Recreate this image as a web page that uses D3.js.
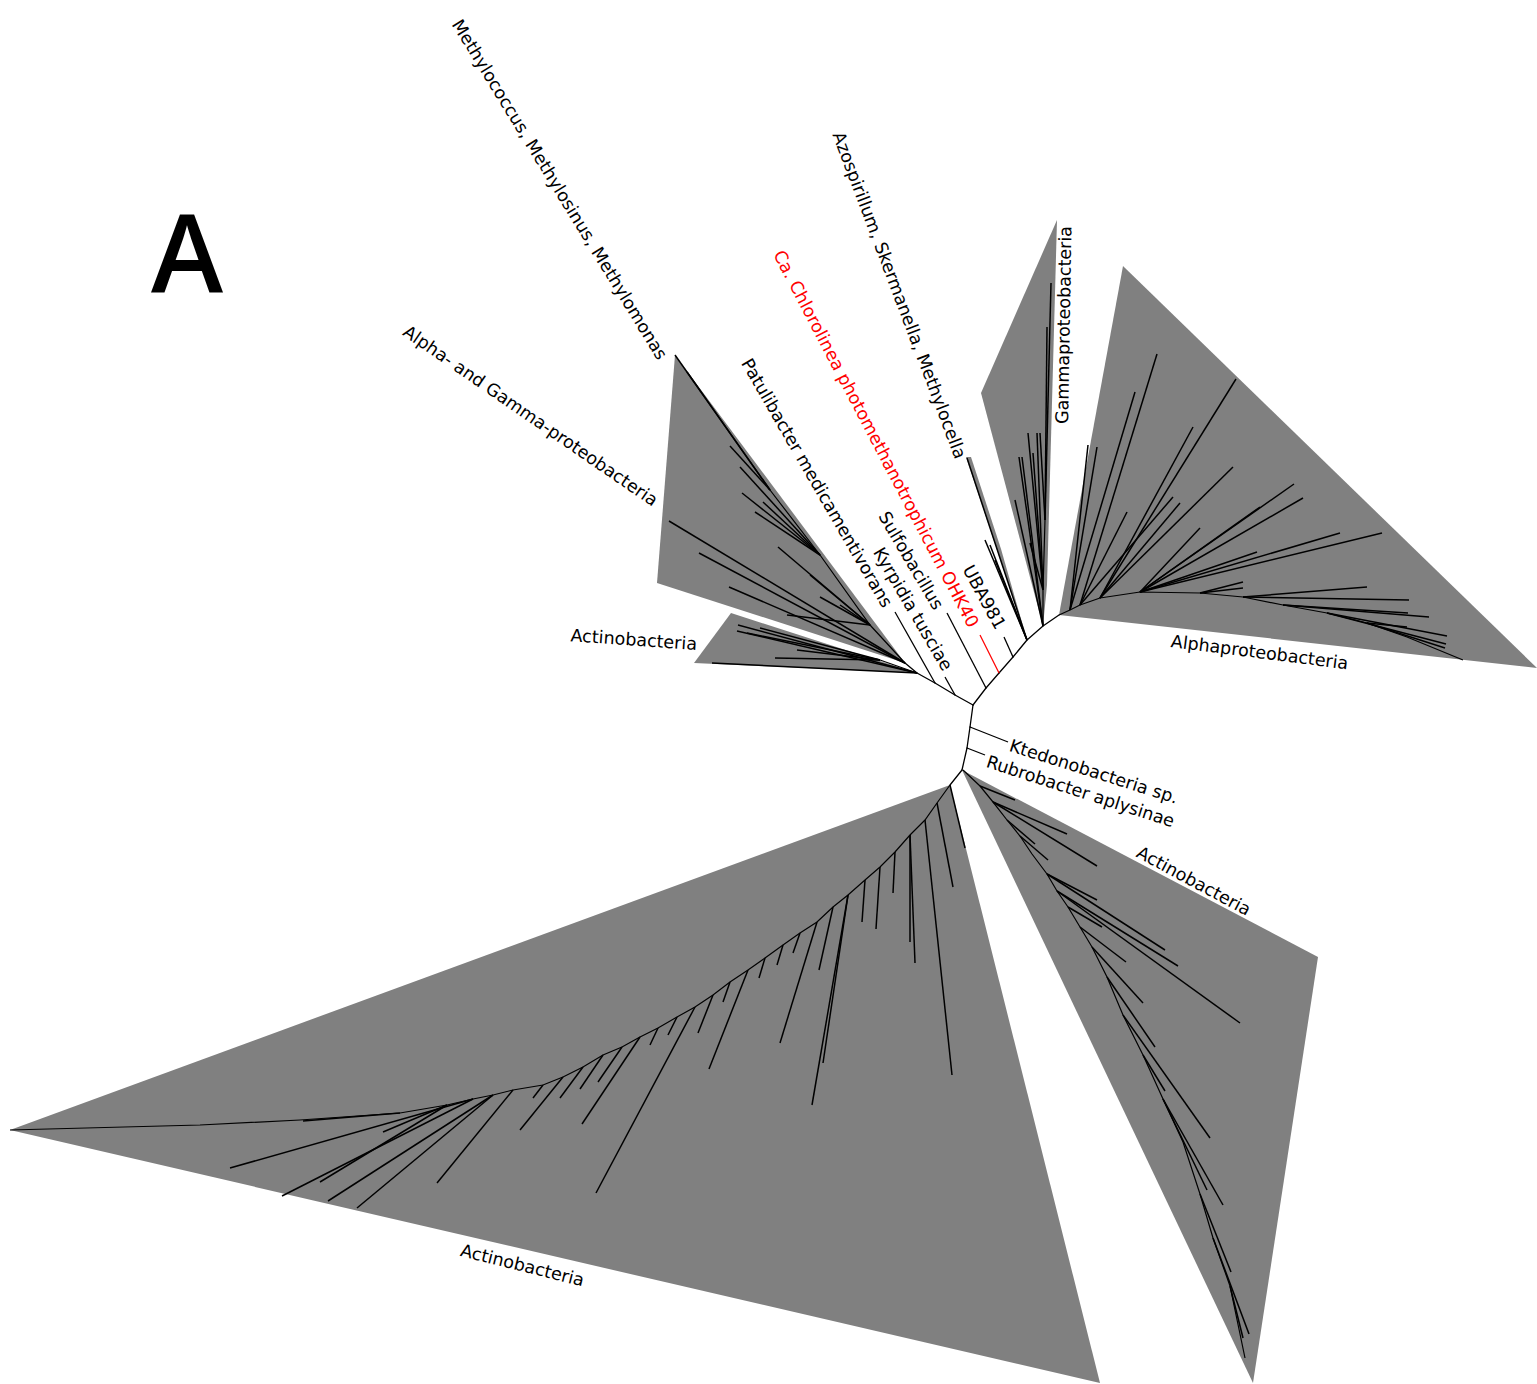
<!DOCTYPE html>
<html>
<head>
<meta charset="utf-8">
<script src="https://cdn.jsdelivr.net/npm/d3@7"></script>
<style>
  body { margin: 0; background: #fff; }
  svg { display: block; background: #fff; }
  .label { font-family: "DejaVu Sans", Verdana, sans-serif; font-size: 17.5px; }
  .panel { font-family: "Open Sans", "DejaVu Sans", sans-serif; font-size: 109px; font-weight: 600; }
</style>
</head>
<body>
<div id="tree"></div>
<script>
var svgWidth = 1537;
var svgHeight = 1384;

// inner backbone of the unrooted tree: [node, parent, x, y]
// x / y in branch-length units, the central node sits at 0,0
var innerNodes = [
  ["R", null, 0, 0],
  ["A1", "R", 0.13, -0.17],
  ["A2", "A1", 0.26, -0.32],
  ["A3", "A2", 0.40, -0.48],
  ["A4", "A3", 0.54, -0.65],
  ["A5", "A4", 0.70, -0.79],
  ["A6", "A5", 0.86, -0.90],
  ["B1", "R", -0.18, -0.10],
  ["B2", "B1", -0.38, -0.22],
  ["B3", "B2", -0.56, -0.32],
  ["B4", "B3", -0.68, -0.42],
  ["C1", "R", -0.03, 0.22],
  ["C2", "C1", -0.06, 0.43],
  ["C3", "C2", -0.11, 0.65],
  ["C4", "C3", -0.23, 0.80]
];

// single named tips
var tipNames = ["Sulfobacillus", "Ca. Chlorolinea photomethanotrophicum OHK40", "UBA981",
  "Kyrpidia tusciae", "Patulibacter medicamentivorans", "Ktedonobacteria sp.", "Rubrobacter aplysinae"];
var tipParents = ["A1", "A2", "A3", "B1", "B2", "C1", "C2"];
var tipCoords = [[-0.26, -0.92], [0.07, -0.70], [0.31, -0.68], [-0.28, -0.28],
  [-0.78, -0.93], [0.35, 0.37], [0.12, 0.50]];
var highlightTip = "Ca. Chlorolinea photomethanotrophicum OHK40";

// collapsed clades (grey wedges)
var cladeIds = ["alphaGamma", "actinoSmall", "azospirillum", "gamma", "alpha", "actinoBig", "actinoRight"];
var cladeRoots = ["B4", "B3", "A4", "A5", "A6", "C4", "C3"];
var cladeHulls = [
  [[-2.98, -3.50], [-3.16, -1.22]],
  [[-2.42, -0.92], [-2.79, -0.42]],
  [[-0.07, -2.48], [-0.02, -2.48], [0.28, -1.56]],
  [[0.08, -3.12], [0.84, -4.85], [0.74, -1.20]],
  [[1.50, -4.39], [5.64, -0.37]],
  [[-9.63, 4.25], [1.27, 6.78]],
  [[3.45, 2.52], [2.80, 6.78]]
];

// internal spine of each clade, first point is the clade root
var cladeBackbones = [
  [[-0.68, -0.42], [-1.03, -0.80], [-1.53, -1.50], [-2.03, -2.15]],
  [[-0.56, -0.32], [-0.93, -0.45]],
  [[0.54, -0.65]],
  [[0.70, -0.79], [0.70, -1.15], [0.72, -1.85]],
  [[0.86, -0.90], [0.97, -0.95], [1.07, -1.00], [1.27, -1.07], [1.67, -1.13], [2.27, -1.12],
   [2.70, -1.08], [3.10, -1.00], [3.54, -0.92], [3.94, -0.82], [4.34, -0.68], [4.90, -0.45]],
  [[-0.23, 0.80], [-0.36, 0.98], [-0.48, 1.15], [-0.63, 1.30], [-0.78, 1.47], [-0.93, 1.62],
   [-1.08, 1.75], [-1.25, 1.90], [-1.40, 2.02], [-1.56, 2.17], [-1.73, 2.28], [-1.90, 2.40],
   [-2.08, 2.53], [-2.25, 2.65], [-2.43, 2.77], [-2.60, 2.90], [-2.78, 3.02], [-2.96, 3.12],
   [-3.15, 3.23], [-3.33, 3.32], [-3.51, 3.42], [-3.70, 3.50], [-3.90, 3.62], [-4.10, 3.72],
   [-4.30, 3.80], [-4.60, 3.85], [-4.80, 3.90], [-5.00, 3.94], [-5.26, 4.00], [-5.73, 4.08],
   [-6.73, 4.15], [-7.73, 4.20], [-9.63, 4.25]],
  [[-0.10, 0.65], [0.07, 0.81], [0.20, 0.97], [0.34, 1.15], [0.47, 1.31], [0.59, 1.49],
   [0.74, 1.69], [0.84, 1.86], [0.95, 2.02], [1.07, 2.22], [1.19, 2.42], [1.34, 2.72],
   [1.50, 3.10], [1.70, 3.50], [1.90, 3.94], [2.10, 4.37], [2.27, 4.89], [2.40, 5.33],
   [2.57, 5.81], [2.72, 6.53]]
];

// leaves inside each clade: [spine index, x, y]
var cladeLeaves = [
  [[3, -2.98, -3.50], [3, -2.86, -3.33], [3, -2.43, -2.59], [2, -2.33, -2.38], [2, -2.31, -2.12],
   [2, -2.18, -1.93], [2, -2.10, -2.03], [0, -3.04, -1.84], [0, -2.74, -1.52], [0, -2.44, -1.18],
   [1, -1.95, -1.58], [1, -1.53, -1.08], [1, -1.33, -1.00], [1, -1.86, -0.90], [1, -1.63, -1.30]],
  [[0, -2.35, -0.80], [0, -2.36, -0.74], [0, -2.61, -0.42], [1, -2.13, -0.77], [1, -1.98, -0.47],
   [1, -1.76, -0.55], [1, -2.26, -0.72]],
  [[0, -0.06, -2.47], [0, 0.12, -1.65], [0, 0.17, -1.60], [0, 0.22, -1.45]],
  [[0, 0.42, -2.05], [0, 0.46, -2.48], [0, 0.49, -2.48], [1, 0.55, -2.72], [1, 0.64, -2.72],
   [1, 0.60, -2.52], [1, 0.57, -1.62], [2, 0.67, -2.72], [2, 0.74, -3.78], [2, 0.78, -4.22]],
  [[1, 1.24, -2.58], [1, 1.15, -2.60], [1, 1.62, -3.13], [2, 1.84, -3.51], [2, 1.54, -1.93],
   [2, 2.00, -2.08], [3, 2.63, -3.26], [3, 2.20, -2.78], [3, 2.60, -2.38], [3, 2.07, -2.02],
   [4, 2.27, -1.77], [4, 2.87, -1.98], [4, 3.30, -2.07], [4, 3.21, -2.21], [4, 4.09, -1.72],
   [4, 3.67, -1.72], [4, 2.84, -1.53], [5, 2.70, -1.23], [5, 2.70, -1.17], [6, 3.94, -1.18],
   [6, 4.36, -1.05], [7, 4.56, -0.88], [7, 4.35, -0.92], [8, 4.74, -0.69], [8, 4.73, -0.61],
   [9, 4.72, -0.57], [9, 4.34, -0.78]],
  [[0, -0.08, 1.43], [1, -0.20, 1.82], [2, -0.21, 3.70], [3, -0.58, 2.58], [3, -0.63, 2.37],
   [4, -0.80, 1.88], [5, -0.97, 2.24], [6, -1.11, 2.17], [7, -1.61, 4.00], [7, -1.50, 3.58],
   [8, -1.54, 2.65], [9, -1.93, 3.38], [10, -1.80, 2.48], [11, -1.96, 2.60], [12, -2.14, 2.73],
   [13, -2.64, 3.64], [14, -2.50, 2.97], [15, -2.75, 3.28], [16, -3.77, 4.88], [17, -3.05, 3.30],
   [18, -3.23, 3.40], [19, -3.91, 4.19], [20, -3.75, 3.77], [21, -3.93, 3.84], [22, -4.13, 3.93],
   [23, -4.53, 4.25], [24, -4.40, 3.93], [25, -5.36, 4.78], [26, -6.16, 5.03], [26, -6.45, 4.96],
   [27, -6.91, 4.91], [27, -7.43, 4.63], [28, -6.53, 4.77], [28, -5.90, 4.27], [29, -6.70, 4.16]],
  [[1, 0.42, 0.95], [2, 0.94, 1.29], [2, 1.24, 1.61], [3, 0.62, 1.39], [4, 0.75, 1.55],
   [6, 1.24, 1.95], [6, 1.92, 2.45], [7, 2.05, 2.61], [7, 2.67, 3.18], [8, 1.29, 2.22],
   [9, 1.53, 2.57], [10, 1.70, 2.98], [11, 1.82, 3.42], [12, 2.37, 4.33], [13, 1.92, 3.86],
   [14, 2.34, 4.85], [14, 2.50, 5.00], [16, 2.58, 5.67], [17, 2.76, 6.29], [18, 2.70, 6.33]]
];

// text shown next to the tree
var labelTexts = ["Methylococcus, Methylosinus, Methylomonas", "Alpha- and Gamma-proteobacteria",
  "Actinobacteria", "Patulibacter medicamentivorans", "Kyrpidia tusciae", "Sulfobacillus",
  "Ca. Chlorolinea photomethanotrophicum OHK40", "UBA981", "Azospirillum, Skermanella, Methylocella",
  "Gammaproteobacteria", "Alphaproteobacteria", "Ktedonobacteria sp.", "Rubrobacter aplysinae",
  "Actinobacteria", "Actinobacteria"];
var panelLetter = "A";

// where each label goes (tree units), its angle and anchor
var labelLayout = [
  {x: -3.10, y: -3.47, angle: 58.5, anchor: "end"},
  {x: -3.17, y: -2.03, angle: 34.5, anchor: "end"},
  {x: -2.76, y: -0.61, angle: 4, anchor: "end"},
  {x: -0.85, y: -0.99, angle: 60, anchor: "end"},
  {x: -0.25, y: -0.36, angle: 59.7, anchor: "end"},
  {x: -0.34, y: -0.97, angle: 59.5, anchor: "end"},
  {x: 0.01, y: -0.79, angle: 62.4, anchor: "end"},
  {x: 0.28, y: -0.77, angle: 61.5, anchor: "end"},
  {x: -0.12, y: -2.47, angle: 69.3, anchor: "end"},
  {x: 0.89, y: -2.81, angle: -89, anchor: "start"},
  {x: 1.98, y: -0.64, angle: 7.2, anchor: "start"},
  {x: 0.37, y: 0.40, angle: 17.6, anchor: "start"},
  {x: 0.14, y: 0.56, angle: 18, anchor: "start"},
  {x: 1.65, y: 1.46, angle: 28.2, anchor: "start"},
  {x: -5.12, y: 5.45, angle: 14, anchor: "start"}
];
var panelPos = {x: -8.22, y: -4.12};

var svg = d3.select("#tree")
  .append("svg")
  .attr("width", svgWidth)
  .attr("height", svgHeight);

// 1 branch-length unit = 100 px, centre node at (973, 705)
var xScale = d3.scaleLinear().domain([-10, 6]).range([-27, 1573]);
var yScale = d3.scaleLinear().domain([-8, 7]).range([-95, 1405]);

var nodeById = {};
innerNodes.forEach(d => { nodeById[d[0]] = {x: d[2], y: d[3]}; });

// grey wedges
cladeHulls.forEach((hull, i) => {
  var root = nodeById[cladeRoots[i]];
  var pts = [[root.x, root.y]].concat(hull);
  svg.append("polygon")
    .attr("class", "clade " + cladeIds[i])
    .attr("points", pts.map(p => xScale(p[0]) + "," + yScale(p[1])).join(" "))
    .attr("fill", "#808080");
});

// clade spines and leaves
var spineLine = d3.line().x(d => xScale(d[0])).y(d => yScale(d[1]));
cladeBackbones.forEach((spine, i) => {
  var g = svg.append("g").attr("class", "cladeTree");
  if (spine.length > 1) {
    g.append("path")
      .attr("d", spineLine(spine))
      .attr("fill", "none")
      .attr("stroke", "#000")
      .attr("stroke-width", 1.2);
  }
  g.selectAll("line")
    .data(cladeLeaves[i])
    .enter()
    .append("line")
    .attr("x1", d => xScale(spine[d[0]][0]))
    .attr("y1", d => yScale(spine[d[0]][1]))
    .attr("x2", d => xScale(d[1]))
    .attr("y2", d => yScale(d[2]))
    .attr("stroke", "#000")
    .attr("stroke-width", 1.5);
});

// inner branches
svg.append("g")
  .selectAll("line")
  .data(innerNodes.filter(d => d[1] !== null))
  .enter()
  .append("line")
  .attr("x1", d => xScale(nodeById[d[1]].x))
  .attr("y1", d => yScale(nodeById[d[1]].y))
  .attr("x2", d => xScale(d[2]))
  .attr("y2", d => yScale(d[3]))
  .attr("stroke", "#000")
  .attr("stroke-width", 1.3)
  .attr("stroke-linecap", "round");

// named tips
svg.append("g")
  .selectAll("line")
  .data(tipNames)
  .enter()
  .append("line")
  .attr("x1", (d, i) => xScale(nodeById[tipParents[i]].x))
  .attr("y1", (d, i) => yScale(nodeById[tipParents[i]].y))
  .attr("x2", (d, i) => xScale(tipCoords[i][0]))
  .attr("y2", (d, i) => yScale(tipCoords[i][1]))
  .attr("stroke", d => d === highlightTip ? "#ff0000" : "#000")
  .attr("stroke-width", 1.3);

// labels
svg.append("g")
  .selectAll("text")
  .data(labelTexts)
  .enter()
  .append("text")
  .attr("class", "label")
  .attr("transform", (d, i) => `translate(${xScale(labelLayout[i].x)}, ${yScale(labelLayout[i].y)}) rotate(${labelLayout[i].angle})`)
  .attr("text-anchor", (d, i) => labelLayout[i].anchor)
  .attr("dominant-baseline", "central")
  .attr("fill", d => d === highlightTip ? "#ff0000" : "#000")
  .text(d => d);

svg.append("text")
  .attr("class", "panel")
  .attr("x", xScale(panelPos.x))
  .attr("y", yScale(panelPos.y))
  .attr("fill", "#000")
  .text(panelLetter);
</script>
</body>
</html>
